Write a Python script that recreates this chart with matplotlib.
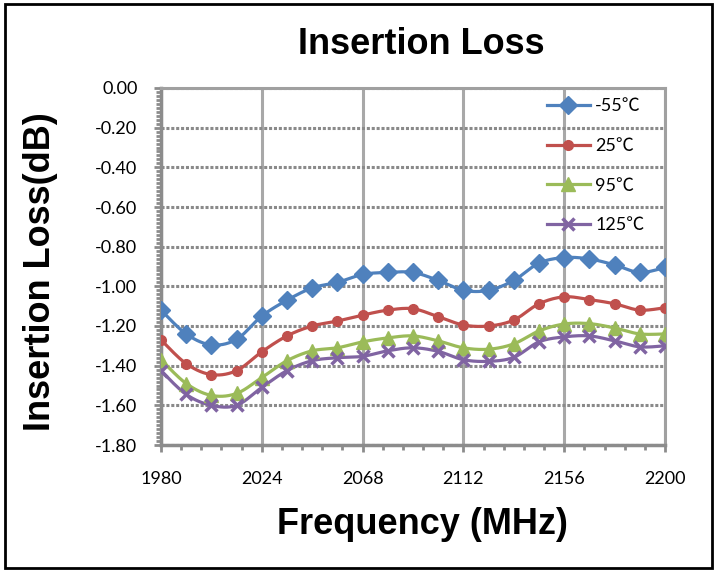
import numpy as np
import matplotlib
matplotlib.use("Agg")
import matplotlib.pyplot as plt
from matplotlib.patches import Rectangle
from matplotlib.ticker import MultipleLocator, FormatStrFormatter

plt.rcParams['axes.unicode_minus'] = False

# data
freq = [1980, 1991, 2002, 2013, 2024, 2035, 2046, 2057, 2068, 2079, 2090,
        2101, 2112, 2123, 2134, 2145, 2156, 2167, 2178, 2189, 2200]
loss_m55 = [-1.12, -1.24, -1.295, -1.267, -1.15, -1.07, -1.008, -0.98, -0.94, -0.93, -0.93,
            -0.97, -1.02, -1.02, -0.97, -0.883, -0.855, -0.862, -0.892, -0.93, -0.905]
loss_25 = [-1.27, -1.39, -1.445, -1.425, -1.33, -1.25, -1.20, -1.175, -1.145, -1.12, -1.113,
           -1.153, -1.195, -1.20, -1.17, -1.088, -1.053, -1.067, -1.088, -1.12, -1.108]
loss_95 = [-1.37, -1.49, -1.55, -1.54, -1.46, -1.375, -1.325, -1.31, -1.28, -1.26, -1.25,
           -1.275, -1.31, -1.317, -1.29, -1.225, -1.19, -1.188, -1.21, -1.24, -1.24]
loss_125 = [-1.425, -1.545, -1.60, -1.60, -1.51, -1.425, -1.375, -1.36, -1.353, -1.325, -1.31,
            -1.328, -1.37, -1.378, -1.358, -1.28, -1.255, -1.25, -1.275, -1.305, -1.30]
labels = ['-55℃', '25℃', '95℃', '125℃']

colors = ['#4F81BD', '#C0504D', '#9BBB59', '#8064A2']
markers = ['D', 'o', '^', 'x']
msizes = [9, 7, 10, 9]


def smooth(x, y, n=16):
    # Excel-like smoothed line (Catmull-Rom style bezier)
    x = np.asarray(x, float)
    y = np.asarray(y, float)
    px = np.concatenate([[x[0]], x, [x[-1]]])
    py = np.concatenate([[y[0]], y, [y[-1]]])
    xs, ys = [], []
    t = np.linspace(0, 1, n, endpoint=False)
    for i in range(1, len(px) - 2):
        p0 = np.array([px[i], py[i]])
        p3 = np.array([px[i + 1], py[i + 1]])
        c1 = p0 + (p3 - np.array([px[i - 1], py[i - 1]])) / 6
        c2 = p3 - (np.array([px[i + 2], py[i + 2]]) - p0) / 6
        b = ((1 - t) ** 3)[:, None] * p0 + (3 * (1 - t) ** 2 * t)[:, None] * c1 \
            + (3 * (1 - t) * t ** 2)[:, None] * c2 + (t ** 3)[:, None] * p3
        xs.extend(b[:, 0])
        ys.extend(b[:, 1])
    xs.append(x[-1])
    ys.append(y[-1])
    return xs, ys


fig = plt.figure(figsize=(7.17, 5.72), dpi=100)
ax = fig.add_axes([161 / 717, 1 - 445 / 572, 504 / 717, 357 / 572])

series = [loss_m55, loss_25, loss_95, loss_125]
for vals, c, m, ms, lab in zip(series, colors, markers, msizes, labels):
    sx, sy = smooth(freq, vals)
    ax.plot(sx, sy, color=c, lw=2.3, zorder=3)
    mew = 2.5 if m == 'x' else 1
    ax.plot(freq, vals, linestyle='none', marker=m, ms=ms, color=c, mew=mew, zorder=4)
    # legend proxy
    ax.plot([], [], color=c, lw=2.3, marker=m, ms=ms, mew=mew, label=lab)

ax.set_xlim(1980, 2200)
ax.set_ylim(-1.8, 0)
ax.xaxis.set_major_locator(MultipleLocator(44))
ax.xaxis.set_minor_locator(MultipleLocator(8.8))
ax.yaxis.set_major_locator(MultipleLocator(0.2))
ax.yaxis.set_minor_locator(MultipleLocator(0.02))
ax.yaxis.set_major_formatter(FormatStrFormatter('%.2f'))

ax.grid(axis='y', which='major', color='#8a8a8a', lw=2.2, linestyle=(0, (1, 0.6)), zorder=1)
ax.grid(axis='x', which='major', color='#a8a8a8', lw=2.2, zorder=1)

for s in ['top', 'right']:
    ax.spines[s].set_color('#a0a0a0')
    ax.spines[s].set_linewidth(2.2)
for s in ['left', 'bottom']:
    ax.spines[s].set_color('#8c8c8c')
    ax.spines[s].set_linewidth(2.5)

ax.tick_params(axis='both', which='both', direction='out', color='#8c8c8c', width=2)
ax.tick_params(axis='both', which='major', length=5)
ax.tick_params(axis='both', which='minor', length=3.5)
ax.tick_params(axis='x', which='major', pad=14)
ax.tick_params(axis='y', which='major', pad=12)

for lbl in ax.get_xticklabels() + ax.get_yticklabels():
    lbl.set_fontfamily('Lato')
    lbl.set_fontsize(13)

leg = ax.legend(loc='upper left', bbox_to_anchor=(0.765, 0.972), frameon=False,
                borderpad=0, borderaxespad=0, handlelength=2.4, handletextpad=0.3,
                labelspacing=1.32, prop={'family': ['Lato', 'Noto Sans CJK SC'], 'size': 13})

fig.text(421 / 717, 1 - 45 / 572, 'Insertion Loss', ha='center', va='center',
         fontsize=26, fontweight='bold', family='Liberation Sans')
fig.text(41 / 717, 1 - 272 / 572, 'Insertion Loss(dB)', ha='center', va='center',
         rotation=90, fontsize=26, fontweight='bold', family='Liberation Sans')
fig.text(422 / 717, 1 - 525 / 572, 'Frequency (MHz)', ha='center', va='center',
         fontsize=26, fontweight='bold', family='Liberation Sans')

fig.patches.append(Rectangle((5 / 717, 4 / 572), 707 / 717, 564 / 572, transform=fig.transFigure,
                             fill=False, edgecolor='black', lw=2))

fig.savefig('out.png', dpi=100)
